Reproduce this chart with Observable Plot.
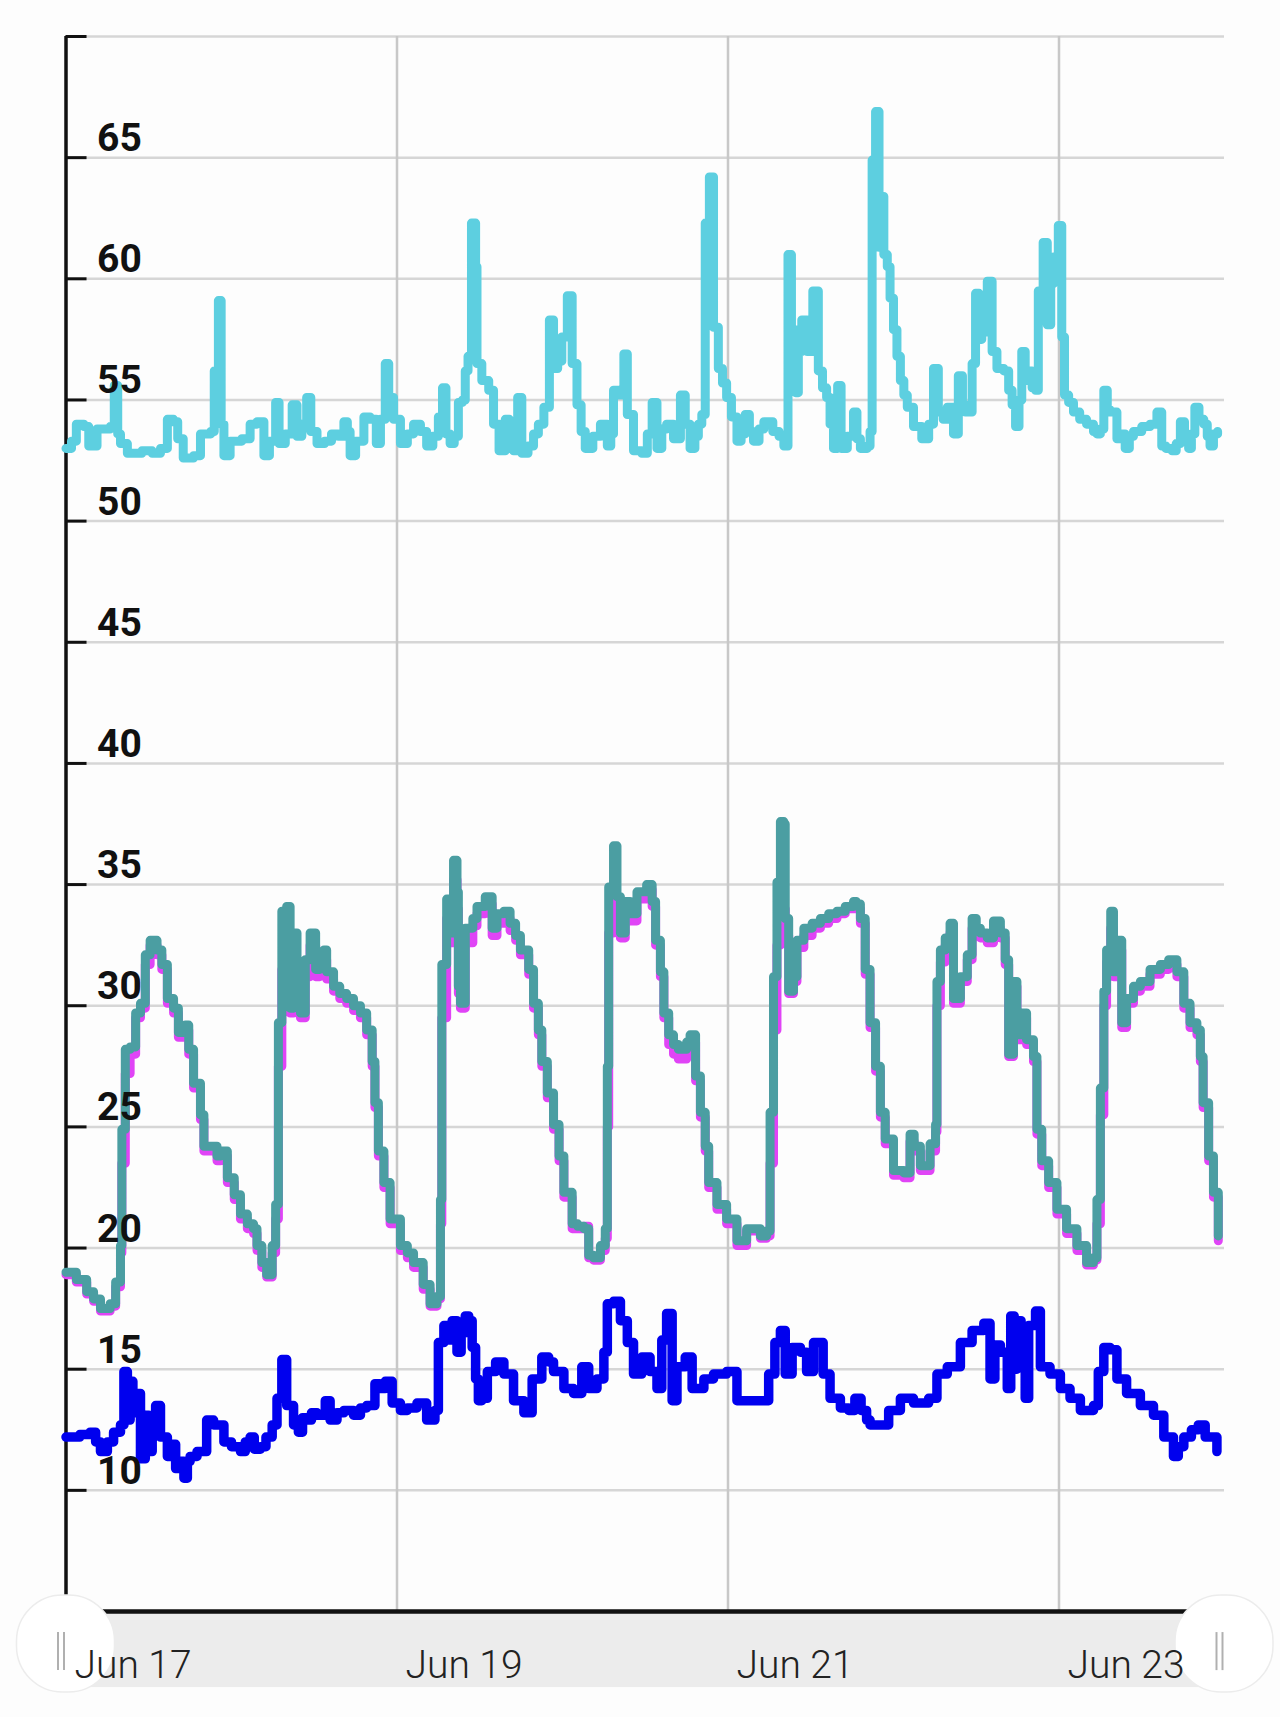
<!DOCTYPE html>
<html>
<head>
<meta charset="utf-8">
<script src="https://cdn.jsdelivr.net/npm/d3@7"></script>
<script src="https://cdn.jsdelivr.net/npm/@observablehq/plot@0.6"></script>
<style>
html, body { margin: 0; padding: 0; background: #fdfdfd; }
#chart svg { display: block; }
</style>
</head>
<body>
<div id="chart"></div>
<script>
// ---- axis / tick data ----
const yGridValues = [10, 15, 20, 25, 30, 35, 40, 45, 50, 55, 60, 65, 70];
const yLabelValues = [10, 15, 20, 25, 30, 35, 40, 45, 50, 55, 60, 65];
const xTickDays = [0, 2, 4, 6];
const xTickLabels = ["Jun 17", "Jun 19", "Jun 21", "Jun 23"];
const xGridDays = [2, 4, 6];
const handleDays = [0, 7];

// ---- humidity (cyan): [hours since Jun 17 00:00, value] ----
const humidityReadings = [
  [0,53.0],[0.8,53.3],[1.5,54.0],[2.6,53.9],[3.3,53.1],[4.5,53.8],[6.4,53.9],[7.0,55.6],[7.5,53.6],[7.9,53.2],
  [8.9,52.8],[11,52.9],[12.5,52.8],[13.7,53.0],[14.7,54.2],[15.6,54.1],[16.2,53.4],[17,52.6],[18.5,52.7],[19.5,53.6],
  [21,53.7],[21.5,56.2],[22.1,59.1],[22.5,54.0],[22.9,52.7],[23.8,53.3],[25.5,53.4],[26.7,54.0],[27.7,54.1],[28.7,52.7],
  [29.5,53.3],[30.4,54.9],[30.9,53.2],[31.8,53.6],[32.8,54.8],[33.5,53.5],[34.2,54.0],[34.9,55.1],[35.5,53.7],[36.4,53.2],
  [37.5,53.3],[38.5,53.6],[39.5,53.5],[40.3,54.1],[40.8,53.7],[41.2,52.7],[42,53.3],[43.2,54.3],[44.1,54.2],[45,53.2],
  [45.6,54.2],[46.3,56.5],[46.8,55.1],[47.5,54.2],[48.5,53.2],[49.5,53.6],[50.4,54.0],[51.4,53.7],[52.3,53.1],[53.2,53.5],
  [54.0,54.3],[54.6,55.5],[55.1,53.6],[55.7,53.2],[56.3,53.5],[56.9,54.9],[57.5,55.0],[57.9,56.2],[58.3,56.8],[58.8,62.3],
  [59.4,60.5],[59.6,56.5],[60.3,55.8],[61.3,55.4],[62,54.0],[62.8,52.9],[63.7,54.2],[64.3,53.7],[64.9,52.9],[65.5,55.1],
  [66.1,52.8],[67.0,53.1],[67.8,53.6],[68.5,54.0],[69.3,54.7],[70.1,58.3],[70.7,56.3],[71.3,56.6],[71.9,57.6],[72.7,59.3],
  [73.4,56.5],[74.1,54.8],[74.7,53.7],[75.3,53.0],[76.4,53.5],[77.5,54.0],[78.5,53.1],[79.0,53.6],[79.4,55.4],[80.2,55.2],
  [80.9,56.9],[81.4,54.4],[82.3,52.9],[83.5,52.8],[84.3,53.6],[85,54.9],[85.7,53.0],[86.4,53.8],[87.1,54.0],[88.1,53.4],
  [89.1,55.2],[89.8,54.0],[90.5,53.0],[91.2,53.5],[91.7,54.0],[92.2,54.4],[92.7,62.3],[93.3,64.2],[93.9,58.0],[94.6,56.3],
  [95.2,55.7],[95.8,55.1],[96.5,54.3],[97.3,53.3],[97.9,53.6],[98.5,54.4],[99.1,53.7],[99.7,53.3],[100.5,53.8],[101.2,54.1],
  [102.5,53.7],[103.4,53.5],[104.1,53.1],[104.7,61.0],[105.2,57.9],[105.8,55.3],[106.2,57.0],[106.7,58.3],[107.5,57.0],[108.3,59.5],
  [109.1,56.2],[109.7,55.5],[110.3,55.1],[110.8,54.0],[111.3,53.0],[111.9,55.6],[112.4,53.0],[113.3,53.5],[114.2,54.5],[114.7,53.4],
  [115.2,53.0],[116.2,53.1],[116.6,53.7],[116.9,64.9],[117.4,66.9],[117.9,61.3],[118.2,63.4],[118.6,61.0],[119.1,60.5],[119.5,59.2],
  [120.0,57.9],[120.5,56.8],[121.0,55.8],[121.5,55.2],[122.0,54.7],[122.9,53.9],[124.1,53.4],[125.1,54.0],[125.8,56.3],[126.5,54.5],
  [127.2,54.2],[127.8,54.7],[128.7,53.6],[129.4,56.0],[130.0,54.8],[130.4,54.5],[131.4,56.5],[131.9,59.4],[132.4,57.5],[132.8,59.1],
  [133.2,57.8],[133.6,59.9],[134.3,57.0],[135.0,56.3],[136.0,56.2],[136.7,55.4],[137.2,54.8],[137.7,53.9],[138.2,55.0],[138.6,57.0],
  [139.1,55.8],[139.6,56.2],[140.1,55.5],[140.6,55.4],[141.0,59.5],[141.7,61.5],[142.3,58.1],[142.8,59.8],[143.2,60.9],[143.9,62.2],
  [144.4,57.6],[144.8,55.2],[145.4,54.9],[146.1,54.5],[147.0,54.2],[148.0,54.0],[149.0,53.7],[149.5,53.6],[150.0,53.8],[150.5,55.4],
  [151.0,54.6],[151.4,54.5],[152.4,53.4],[153.0,53.6],[153.6,53.0],[154.2,53.5],[154.8,53.7],[156.0,53.9],[157.2,54.0],[158.2,54.5],
  [158.9,53.1],[159.5,53.0],[160.4,52.9],[161.0,53.2],[161.6,54.1],[162.2,53.4],[162.8,53.0],[163.2,53.6],[163.7,54.7],[164.3,54.2],
  [165.0,54.0],[165.5,53.5],[165.9,53.1],[166.4,53.6],[167.0,53.7]
];

// ---- temperature (teal and magenta share hours) ----
const tempHours = [
  0, 1.5, 3, 4, 5, 6.4, 7.2, 7.9, 8.1, 8.6,
  9.3, 10.1, 10.8, 11.5, 12.2, 13.2, 13.9, 14.7, 15.6, 16.3,
  17.3, 17.8, 18.5, 19.5, 20.0, 21.9, 22.4, 23.4, 24.4, 25.3,
  26.3, 27.2, 27.7, 28.4, 29.1, 29.9, 30.4, 30.8, 31.3, 31.6,
  32.0, 32.5, 33.0, 33.5, 34.0, 34.7, 35.4, 36.2, 36.8, 37.4,
  37.8, 38.8, 39.7, 40.7, 41.7, 42.7, 43.6, 44.4, 44.8, 45.3,
  46.1, 47.0, 48.5, 49.5, 50.4, 51.8, 52.8, 53.8, 54.3, 54.5,
  55.2, 55.7, 56.2, 56.7, 56.9, 57.2, 57.9, 59.0, 59.6, 60.8,
  61.8, 62.5, 63.5, 64.4, 65.2, 65.9, 67.1, 67.8, 68.5, 69.0,
  69.8, 70.7, 71.5, 72.2, 73.4, 74.2, 75.1, 75.8, 76.5, 77.5,
  78.2, 78.5, 78.7, 79.4, 79.9, 80.4, 81.1, 81.8, 82.8, 84.2,
  85.0, 85.5, 86.2, 86.7, 87.4, 88.1, 88.8, 90.0, 90.5, 91.3,
  92.0, 92.7, 93.2, 94.4, 95.8, 97.3, 98.7, 100.7, 101.6, 102.1,
  102.6, 103.1, 103.6, 104.1, 104.3, 104.8, 105.5, 106.0, 107.0, 108.2,
  109.4, 110.6, 111.8, 113.0, 114.2, 114.6, 115.2, 115.9, 116.6, 117.4,
  118.1, 118.8, 120.0, 121.5, 122.4, 123.0, 123.9, 125.3, 126.1, 126.3,
  126.8, 127.5, 128.2, 128.7, 129.7, 130.7, 131.4, 132.0, 132.6, 133.6,
  134.5, 135.5, 136.2, 136.7, 137.4, 137.9, 138.6, 139.3, 140.3, 140.8,
  141.5, 142.5, 143.7, 145.1, 146.6, 148.0, 149.0, 149.5, 150.0, 150.5,
  150.9, 151.5, 151.9, 152.4, 153.1, 153.8, 154.8, 155.8, 157.2, 158.7,
  159.9, 161.1, 162.1, 163.0, 164.0, 164.5, 164.9, 165.7, 166.4, 167.1
];
const tempTeal = [
  19.0, 18.7, 18.2, 17.9, 17.5, 17.7, 18.6, 20.1, 24.9, 28.2,
  28.3, 29.7, 30.1, 32.1, 32.7, 32.3, 31.7, 30.3, 29.9, 28.9,
  29.2, 28.2, 26.8, 25.5, 24.2, 23.8, 24.0, 22.9, 22.2, 21.4,
  21.0, 20.8, 20.1, 19.4, 18.9, 20.1, 21.8, 29.3, 33.9, 30.0,
  34.1, 29.9, 33.0, 30.1, 29.7, 31.9, 33.0, 31.5, 31.9, 32.3,
  31.4, 30.8, 30.5, 30.3, 30.0, 29.7, 29.0, 27.7, 26.0, 24.0,
  22.7, 21.2, 20.1, 19.8, 19.4, 18.5, 17.7, 18.0, 22.0, 31.7,
  34.4, 33.0, 36.0, 34.7, 30.8, 30.1, 33.2, 33.6, 34.1, 34.5,
  33.2, 33.8, 33.9, 33.4, 32.9, 32.3, 31.5, 30.1, 29.0, 27.7,
  26.4, 25.1, 23.8, 22.3, 21.0, 20.9, 20.8, 19.7, 19.6, 20.1,
  20.8, 27.5, 34.9, 36.6, 34.5, 33.0, 34.3, 33.8, 34.7, 35.0,
  34.3, 32.7, 31.4, 29.7, 28.8, 28.4, 28.2, 28.5, 28.8, 27.1,
  25.6, 24.2, 22.7, 21.8, 21.2, 20.3, 20.8, 20.5, 20.7, 25.6,
  31.2, 35.1, 37.6, 37.5, 33.6, 30.6, 31.2, 32.7, 33.2, 33.4,
  33.6, 33.8, 33.9, 34.1, 34.3, 34.2, 33.6, 31.5, 29.3, 27.5,
  25.6, 24.5, 23.2, 23.1, 24.7, 24.2, 23.4, 24.3, 25.1, 31.0,
  32.3, 32.8, 33.4, 30.3, 31.2, 32.1, 33.6, 33.2, 33.0, 32.8,
  33.5, 33.0, 31.9, 28.0, 31.0, 28.8, 29.7, 28.6, 27.9, 24.9,
  23.6, 22.7, 21.6, 20.8, 20.1, 19.4, 19.6, 22.0, 26.6, 30.6,
  32.3, 33.9, 31.4, 32.7, 29.3, 30.3, 30.8, 31.0, 31.5, 31.7,
  31.9, 31.4, 30.1, 29.3, 29.0, 27.9, 26.0, 23.8, 22.3, 20.5
];
const tempMagenta = [
  18.9, 18.6, 18.1, 17.8, 17.4, 17.6, 18.4, 19.8, 23.5, 27.2,
  28.0, 29.5, 29.9, 31.7, 32.5, 32.1, 31.5, 30.1, 29.7, 28.7,
  29.0, 28.0, 26.6, 25.3, 24.0, 23.6, 23.8, 22.7, 22.0, 21.2,
  20.8, 20.6, 19.9, 19.2, 18.8, 19.8, 21.2, 27.5, 31.5, 29.8,
  32.0, 29.7, 31.8, 29.9, 29.5, 31.2, 32.5, 31.2, 31.6, 31.9,
  31.1, 30.6, 30.3, 30.1, 29.8, 29.5, 28.8, 27.5, 25.8, 23.8,
  22.5, 21.0, 19.9, 19.6, 19.2, 18.3, 17.6, 17.9, 21.0, 29.5,
  33.6, 32.6, 35.2, 34.0, 30.5, 29.9, 32.6, 33.3, 33.8, 34.2,
  32.9, 33.4, 33.6, 33.1, 32.7, 32.1, 31.3, 29.9, 28.8, 27.5,
  26.2, 24.9, 23.6, 22.1, 20.8, 20.8, 20.9, 19.6, 19.5, 19.9,
  20.4, 25.0, 33.0, 34.5, 33.6, 32.8, 33.7, 33.5, 34.4, 34.8,
  34.1, 32.5, 31.2, 29.5, 28.4, 28.0, 27.8, 28.0, 28.5, 26.9,
  25.4, 24.0, 22.5, 21.6, 21.0, 20.1, 20.7, 20.4, 20.5, 23.5,
  29.0, 32.5, 34.0, 34.0, 32.9, 30.5, 31.0, 32.4, 32.9, 33.2,
  33.4, 33.6, 33.8, 34.0, 34.1, 34.0, 33.4, 31.3, 29.1, 27.3,
  25.4, 24.3, 23.0, 22.9, 24.4, 24.0, 23.2, 24.0, 24.8, 30.0,
  31.8, 32.5, 33.0, 30.1, 31.0, 31.9, 33.2, 33.0, 32.8, 32.6,
  33.2, 32.8, 31.7, 27.9, 30.8, 28.6, 29.5, 28.4, 27.7, 24.7,
  23.4, 22.5, 21.4, 20.6, 19.9, 19.3, 19.5, 21.0, 25.5, 30.0,
  31.8, 33.2, 31.2, 32.3, 29.1, 30.1, 30.6, 30.8, 31.3, 31.5,
  31.7, 31.2, 29.9, 29.1, 28.8, 27.7, 25.8, 23.6, 22.1, 20.3
];

// ---- dew point (blue): [hours, value] ----
const dewReadings = [
  [0,12.2],[2,12.3],[3.5,12.4],[4.3,12.0],[5,11.6],[6,12.0],[6.9,12.4],[7.9,12.7],[8.4,14.9],[8.9,12.9],
  [9.3,14.5],[9.7,13.2],[10.1,14.0],[10.8,11.3],[11.5,13.1],[12.0,11.6],[12.5,12.6],[13.0,13.5],[13.7,12.2],[14.7,11.4],
  [15.3,11.9],[15.9,10.9],[16.5,11.2],[17.1,10.5],[17.6,11.2],[18.0,11.4],[19.0,11.6],[20.4,12.9],[21.4,12.7],[22.9,12.0],
  [24.0,11.8],[25.3,11.6],[26.0,12.0],[26.7,12.2],[27.3,11.7],[28.2,11.8],[29.0,12.2],[29.9,12.7],[30.6,13.8],[31.3,15.4],
  [32.0,13.5],[33.0,12.7],[33.7,12.4],[34.3,13.0],[34.9,12.9],[35.6,13.2],[36.4,13.1],[37.6,13.7],[38.3,12.9],[39.3,13.2],
  [40.3,13.3],[41.7,13.1],[42.7,13.4],[43.6,13.5],[44.8,14.4],[45.5,14.2],[46.3,14.5],[47.3,13.6],[48.5,13.3],[49.5,13.4],
  [50.9,13.6],[52.3,12.9],[53.5,13.3],[54.0,16.1],[54.8,16.8],[55.4,16.2],[56.0,17.0],[56.7,15.7],[57.3,16.5],[57.9,17.2],
  [58.4,17.0],[58.9,15.9],[59.4,14.6],[59.8,13.7],[60.3,13.8],[61.1,14.9],[62.3,15.3],[63.5,14.8],[64.9,13.7],[66.4,13.2],
  [67.6,14.6],[69.0,15.5],[70.0,15.3],[70.7,14.9],[72.2,14.2],[73.6,14.0],[74.8,15.1],[75.8,14.2],[77.0,14.6],[78.0,15.7],
  [78.5,17.7],[79.4,17.8],[80.4,17.0],[81.4,16.1],[82.3,14.8],[83.5,15.5],[84.7,14.9],[85.7,14.2],[86.4,16.2],[87.1,17.3],
  [87.9,13.7],[88.6,15.1],[89.8,15.5],[90.8,14.2],[92.5,14.6],[93.9,14.8],[95.8,14.9],[97.3,13.7],[99.2,13.7],[101.2,13.7],
  [101.9,14.8],[102.8,16.1],[103.6,16.6],[104.3,14.8],[105.3,15.9],[106.5,15.7],[107.4,14.9],[108.4,16.1],[109.8,14.8],[110.8,13.8],
  [112.3,13.4],[113.5,13.3],[114.4,13.8],[115.3,13.3],[116.1,12.9],[116.6,12.7],[118.1,12.7],[119.3,13.3],[121.0,13.8],[122.9,13.6],
  [125.1,13.8],[126.3,14.8],[127.8,15.1],[129.7,16.1],[131.4,16.6],[133.1,16.9],[134.0,14.6],[134.7,16.0],[135.5,15.7],[136.5,14.2],
  [137.0,17.2],[137.5,15.0],[137.9,17.0],[138.5,16.0],[139.1,13.8],[139.6,16.8],[140.6,17.4],[141.3,15.1],[142.7,14.8],[144.2,14.2],
  [145.6,13.8],[147.1,13.3],[149.0,13.5],[149.7,14.9],[150.5,15.9],[151.4,15.8],[152.4,14.6],[153.8,14.0],[155.8,13.5],[157.7,13.1],
  [159.2,12.2],[160.6,11.4],[161.3,11.8],[162.1,12.2],[163.2,12.5],[164.2,12.7],[165.2,12.2],[166.9,11.6]
];

// ---- build tables ----
const startMs = Date.UTC(2023, 5, 17);
const toDate = h => new Date(startMs + h * 3600e3);
const startDate = toDate(0);
const endDate = toDate(7 * 24);

const humidity = humidityReadings.map(([h, v]) => ({t: toDate(h), v}));
const teal = tempHours.map((h, i) => ({t: toDate(h), v: tempTeal[i]}));
const magenta = tempHours.map((h, i) => ({t: toDate(h), v: tempMagenta[i]}));
const dew = dewReadings.map(([h, v]) => ({t: toDate(h), v}));

const lineStyle = {x: "t", y: "v", strokeWidth: 9, curve: "step-after", strokeLinejoin: "round", strokeLinecap: "round"};

const chart = Plot.plot({
  width: 1280,
  height: 1717,
  marginLeft: 65.5,
  marginRight: 56,
  marginTop: 36,
  marginBottom: 106,
  style: {background: "#fdfdfd", fontFamily: "Roboto, 'Open Sans', sans-serif", overflow: "visible"},
  x: {type: "utc", domain: [startDate, endDate], axis: null},
  y: {domain: [5, 70], axis: null},
  marks: [
    // grid
    Plot.ruleY(yGridValues, {stroke: "#d6d6d6", strokeWidth: 2.5}),
    Plot.ruleX(xGridDays, {x: d => toDate(d * 24), stroke: "#c8c8c8", strokeWidth: 2.5}),
    // navigator band under the x axis
    Plot.rect([0], {x1: () => startDate, x2: () => endDate, y1: () => 5, y2: () => 1.86, fill: "#ececec"}),
    // axes
    Plot.ruleY([5], {stroke: "#111", strokeWidth: 4.5}),
    Plot.ruleX([0], {x: () => startDate, y1: () => 70, y2: () => 5, stroke: "#111", strokeWidth: 3.5}),
    Plot.ruleY(yGridValues, {x1: () => startDate, x2: () => toDate(3.05), stroke: "#111", strokeWidth: 3}),
    // series
    Plot.line(humidity, {...lineStyle, stroke: "#5dcfe0"}),
    Plot.line(magenta, {...lineStyle, stroke: "#e044f6"}),
    Plot.line(teal, {...lineStyle, stroke: "#4b9ea2"}),
    Plot.line(dew, {...lineStyle, strokeWidth: 9.5, stroke: "#0000ee"}),
    // navigator handles
    Plot.rect(handleDays, {x1: d => toDate(d * 24), x2: d => toDate(d * 24), y1: () => 5.66, y2: () => 1.66,
      insetLeft: -49, insetRight: -49, rx: 46, fill: "#ffffff", stroke: "#ececec", strokeWidth: 1.5}),
    Plot.ruleX(handleDays, {x: d => toDate(d * 24), y1: () => 4.13, y2: () => 2.56, dx: -8, stroke: "#b0b0b0", strokeWidth: 2}),
    Plot.ruleX(handleDays, {x: d => toDate(d * 24), y1: () => 4.13, y2: () => 2.56, dx: -2, stroke: "#b0b0b0", strokeWidth: 2}),
    // labels
    Plot.text(yLabelValues, {x: () => startDate, y: d => d, text: d => String(d), textAnchor: "start",
      dx: 31, dy: -19, fontSize: 39, fontWeight: 700, fill: "#111"}),
    Plot.text(xTickDays, {x: d => toDate(d * 24), y: () => 5, text: (d, i) => xTickLabels[i], textAnchor: "start",
      dx: 8.5, dy: 54.5, fontSize: 39, fontWeight: 300, fill: "#222"})
  ]
});

document.getElementById("chart").appendChild(chart);
</script>
</body>
</html>
